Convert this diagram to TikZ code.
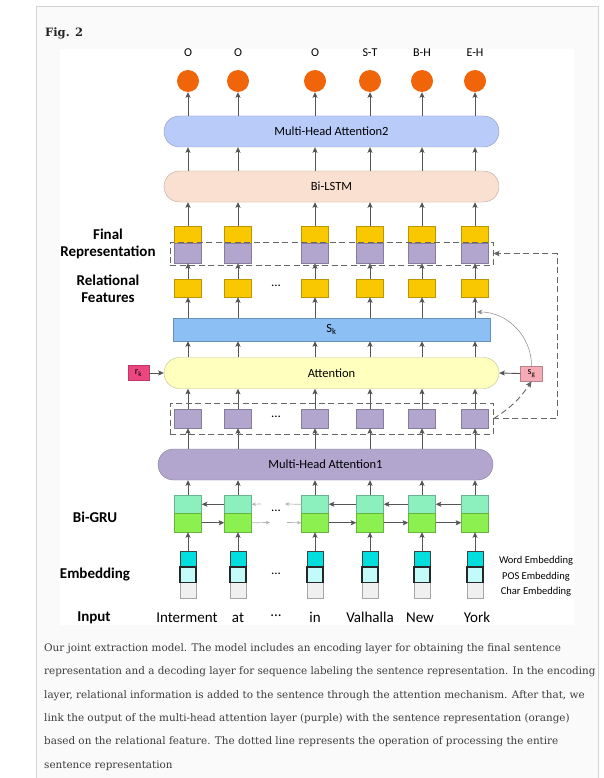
\documentclass[tikz,border=0pt]{standalone}
\usepackage{fontspec}
\setmainfont{Carlito}
\newfontfamily\capfont{DejaVu Serif}
\usetikzlibrary{arrows.meta}

\definecolor{orng}{RGB}{240,100,10}
\definecolor{bluepill}{RGB}{185,203,248}
\definecolor{peach}{RGB}{250,224,208}
\definecolor{gold}{RGB}{250,200,0}
\definecolor{lilac}{RGB}{178,166,206}
\definecolor{skblue}{RGB}{140,192,245}
\definecolor{lemon}{RGB}{255,255,190}
\definecolor{rkpink}{RGB}{236,70,128}
\definecolor{sgpink}{RGB}{246,172,182}
\definecolor{mint}{RGB}{140,240,190}
\definecolor{lime}{RGB}{140,240,80}
\definecolor{cyanA}{RGB}{0,222,222}
\definecolor{cyanB}{RGB}{195,250,250}
\definecolor{arrgray}{RGB}{85,85,85}
\definecolor{pagebg}{RGB}{250,250,250}
\definecolor{framegray}{RGB}{212,212,212}
\definecolor{captext}{RGB}{60,60,60}

\begin{document}
\begin{tikzpicture}[x=1pt,y=-1pt,
    layer/.style={rounded corners=15.5pt, draw=#1!75!black, fill=#1, minimum width=335pt,
                  minimum height=31pt, inner sep=0pt, font=\fontsize{12.5}{14}\selectfont},
    cell/.style={draw=#1!75!black, fill=#1, minimum width=27pt, inner sep=0pt},
    ecell/.style={fill=#1, minimum width=16pt, minimum height=15.7pt, inner sep=0pt},
    outc/.style={circle, fill=orng, minimum size=22pt, inner sep=0pt},
    tag/.style={font=\fontsize{12}{13}\selectfont},
    word/.style={font=\fontsize{15}{16}\selectfont},
    side/.style={font=\bfseries\fontsize{15}{17}\selectfont, align=center},
    leg/.style={font=\fontsize{10.5}{12}\selectfont},
    up/.style={draw=arrgray, line width=0.9pt, -{Stealth[length=5.5pt,width=5pt,inset=1pt]}},
    faint/.style={draw=arrgray!45, line width=0.7pt, -{Stealth[length=4pt,width=3.5pt,inset=1pt]}},
    dsh/.style={draw=arrgray!90, line width=0.9pt, dash pattern=on 6pt off 3.5pt},
    dbox/.style={dsh, inner sep=0pt},
    capt/.style={font=\capfont\fontsize{10.4}{23.3}\selectfont, text=captext, align=left, inner sep=0pt}]
  \useasboundingbox (0,0) rectangle (603,778);
  % page and frame
  \fill[white] (0,0) rectangle (603,778);
  \fill[pagebg] (36,6) rectangle (598,778);
  \draw[framegray, line width=0.9pt] (36,778) -- (36,6) -- (598,6) -- (598,778);
  \fill[white] (60,49) rectangle (574,625);
  \node[font=\capfont\bfseries\fontsize{11.5}{13}\selectfont, text=black!85, anchor=base west, inner sep=0pt] (fig) at (45,37) {Fig. 2};

  % layers
  \node[layer=bluepill] (mha2) at (331.5,131.5) {Multi-Head Attention2};
  \node[layer=peach] (lstm) at (331.5,186.5) {Bi-LSTM};
  \node[draw=skblue!75!black, fill=skblue, minimum width=317pt, minimum height=23pt, inner sep=0pt,
        font=\fontsize{12.5}{14}\selectfont] (sk) at (331.5,329.5) {S\textsubscript{k}};
  \node[layer=lemon] (att) at (331.5,373) {Attention};
  \node[layer=lilac] (mha1) at (325.5,464.5) {Multi-Head Attention1};
  \node[draw=rkpink!80!black, fill=rkpink, minimum width=21pt, minimum height=15pt, inner sep=0pt,
        font=\fontsize{10}{11}\selectfont] (rk) at (138.5,373) {r\textsubscript{k}};
  \node[draw=sgpink!75!black, fill=sgpink, minimum width=22pt, minimum height=15pt, inner sep=0pt,
        font=\fontsize{10}{11}\selectfont] (sg) at (531.5,373.5) {s\textsubscript{g}};

  % columns
  \foreach \i/\x/\t in {1/188/O,2/238/O,3/315/O,4/370/S-T,5/422/B-H,6/475/E-H} {
    \node[tag] (t\i) at (\x,53) {\t};
    \node[outc] (o\i) at (\x,81) {};
    \node[cell=gold, minimum height=17.5pt] (fy\i) at (\x,234.5) {};
    \node[cell=lilac, minimum height=20pt] (fp\i) at (\x,253) {};
    \node[cell=gold, minimum height=18pt] (ry\i) at (\x,288) {};
    \node[cell=lilac, minimum height=19pt] (lp\i) at (\x,418.5) {};
    \node[cell=mint, minimum height=18.5pt] (gt\i) at (\x,504.25) {};
    \node[cell=lime, minimum height=18.5pt] (gb\i) at (\x,522.75) {};
    \node[ecell=cyanA, draw=black!75, line width=0.6pt] (ea\i) at (\x,559) {};
    \node[ecell=black!6, draw=black!35, line width=0.6pt] (ec\i) at (\x,590.4) {};
    \node[ecell=cyanB, draw=black!85, line width=1.4pt] (eb\i) at (\x,574.7) {};
    \draw[up] (o\i |- mha2.north) -- (o\i.south);
    \draw[up] (fy\i |- lstm.north) -- (fy\i |- mha2.south);
    \draw[up] (fy\i.north) -- (fy\i |- lstm.south);
    \draw[up] (ry\i.north) -- (fp\i.south);
    \draw[up] (ry\i |- sk.north) -- (ry\i.south);
    \draw[up] (ry\i |- att.north) -- (ry\i |- sk.south);
    \draw[up] (lp\i.north) -- (lp\i |- att.south);
    \draw[up] (lp\i |- mha1.north) -- (lp\i.south);
    \draw[up] (gt\i.north) -- (gt\i |- mha1.south);
    \draw[up] (ea\i.north) -- (gb\i.south);
  }

  % Bi-GRU links
  \foreach \a/\b in {1/2,3/4,4/5,5/6} {
    \draw[up] (gt\b.west) -- (gt\a.east);
    \draw[up] (gb\a.east) -- (gb\b.west);
  }
  \coordinate (gl1) at (261,504);
  \coordinate (gl2) at (285,504);
  \coordinate (gr1) at (270,522.5);
  \coordinate (gr2) at (287,522.5);
  \draw[faint] (gl1) -- (gt2.east);
  \draw[faint] (gt3.west) -- (gl2);
  \draw[faint] (gb2.east) -- (gr1);
  \draw[faint] (gr2) -- (gb3.west);

  \node[font=\fontsize{13}{14}\selectfont] (d1) at (276,286) {...};
  \node[font=\fontsize{13}{14}\selectfont] (d2) at (276,417) {...};
  \node[font=\fontsize{13}{14}\selectfont] (d3) at (276,511) {...};
  \node[font=\fontsize{13}{14}\selectfont] (d4) at (276,574) {...};

  % relational inputs
  \draw[up] (rk.east) -- (att.west);
  \draw[up] (sg.west) -- (att.east);
  \coordinate (skin) at (477,312);
  \draw[draw=arrgray!70, line width=0.5pt, -{Stealth[length=5pt,width=4.5pt,inset=1pt]}]
    (sg.north) to[out=90, in=0] (skin);

  % dashed groups
  \node[dbox, minimum width=323pt, minimum height=23pt] (upbox) at (331.5,253.5) {};
  \node[dbox, minimum width=323pt, minimum height=31pt] (lowbox) at (331.5,418.75) {};
  \coordinate (ret) at (557,418.75);
  \draw[dsh, -{Stealth[length=6pt,width=5.5pt,inset=1pt]}] (lowbox.east) -- (ret) |- (upbox.east);
  \draw[dsh, -{Stealth[length=6pt,width=5.5pt,inset=1pt]}] (lowbox.east) to[bend right=12] (sg.south);

  % side labels
  \node[side] (lfin) at (108,244) {Final\\Representation};
  \node[side] (lrel) at (108,289) {Relational\\Features};
  \node[side] (lgru) at (95,517) {Bi-GRU};
  \node[side] (lemb) at (95,575) {Embedding};
  \node[side] (linp) at (94,617.5) {Input};

  % input words
  \node[word] (w1) at (187,617.5) {Interment};
  \node[word] (w2) at (238,617.5) {at};
  \node[word] (w3) at (276,615.5) {...};
  \node[word] (w4) at (315,617.5) {in};
  \node[word] (w5) at (370,617.5) {Valhalla};
  \node[word] (w6) at (420,617.5) {New};
  \node[word] (w7) at (477,617.5) {York};

  % legend
  \node[leg] (lgw) at (536,560.5) {Word Embedding};
  \node[leg] (lgp) at (536,576.5) {POS Embedding};
  \node[leg] (lgc) at (536,591.5) {Char Embedding};

  % caption (anchored on its last line)
  \node[capt, anchor=base west] (cap) at (44,768) {Our joint extraction model. The model includes an encoding layer for obtaining the final sentence\\
representation and a decoding layer for sequence labeling the sentence representation. In the encoding\\
layer, relational information is added to the sentence through the attention mechanism. After that, we\\
link the output of the multi-head attention layer (purple) with the sentence representation (orange)\\
based on the relational feature. The dotted line represents the operation of processing the entire\\
sentence representation};
\end{tikzpicture}
\end{document}
